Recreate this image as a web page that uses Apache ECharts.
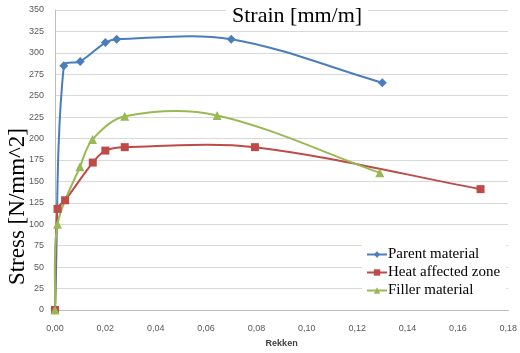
<!DOCTYPE html>
<html>
<head>
<meta charset="utf-8">
<script src="https://cdn.jsdelivr.net/npm/echarts@6/dist/echarts.min.js"></script>
<style>
  html, body { margin: 0; padding: 0; background: #fff; }
  #chart { width: 520px; height: 353px; }
</style>
</head>
<body>
<div id="chart"></div>
<script>
// strain values (x) and stress values (y) per material
const parentStrain = [0, 0.0035, 0.01, 0.02, 0.0245, 0.07, 0.13];
const parentStress = [0, 285, 290, 312, 316, 316, 265];
const hazStrain = [0, 0.001, 0.004, 0.015, 0.02, 0.0277, 0.0794, 0.169];
const hazStress = [0, 118, 128, 172, 186, 190, 190, 141];
const fillerStrain = [0, 0.001, 0.0099, 0.0149, 0.0277, 0.0644, 0.129];
const fillerStress = [0, 100, 167, 199, 226, 227, 160];
const seriesNames = ["Parent material", "Heat affected zone", "Filler material"];
const colors = ["#4a7ebb", "#be4b48", "#98b954"];

const pairs = (xs, ys) => xs.map((x, i) => [x, ys[i]]);
const serif = "Liberation Serif";
const tickFont = { fontFamily: "Liberation Sans", fontSize: 9, color: "#595959" };

const chart = echarts.init(document.getElementById("chart"));

// excel-like smoothed line: bezier segment i -> i+1.
// tangent direction from the neighbours, length a third of the segment (in pixels)
function smoothLine(data, color) {
    const unit = (a, b) => {
        const dx = b[0] - a[0], dy = b[1] - a[1];
        const l = Math.hypot(dx, dy) || 1;
        return [dx / l, dy / l];
    };
    return {
        type: "custom",
        data: data,
        z: 2,
        silent: true,
        renderItem: (params, api) => {
            const i = params.dataIndex;
            if (i >= data.length - 1) return;
            const p = k => api.coord(data[Math.max(0, Math.min(data.length - 1, k))]);
            const p0 = p(i - 1), p1 = p(i), p2 = p(i + 1), p3 = p(i + 2);
            const len = Math.hypot(p2[0] - p1[0], p2[1] - p1[1]) * 0.33;
            const d1 = unit(p0, p2), d2 = unit(p1, p3);
            return {
                type: "bezierCurve",
                shape: {
                    x1: p1[0], y1: p1[1],
                    x2: p2[0], y2: p2[1],
                    cpx1: p1[0] + d1[0] * len, cpy1: p1[1] + d1[1] * len,
                    cpx2: p2[0] - d2[0] * len, cpy2: p2[1] - d2[1] * len
                },
                style: { stroke: color, lineWidth: 2, fill: null }
            };
        }
    };
}

const markers = (name, data, color, symbol, size) => ({
    name: name,
    type: "line",
    data: data,
    z: 3,
    symbol: symbol,
    symbolSize: size,
    color: color,
    lineStyle: { opacity: 0 },
    itemStyle: { color: color },
});

const allData = [
    pairs(parentStrain, parentStress),
    pairs(hazStrain, hazStress),
    pairs(fillerStrain, fillerStress)
];

const option = {
    animation: false,
    backgroundColor: "#fff",
    title: {
        text: "Strain [mm/m]",
        left: 226,
        top: 3,
        padding: [2, 6],
        backgroundColor: "#fff",
        textStyle: { fontFamily: serif, fontSize: 22, fontWeight: "normal", color: "#000" }
    },
    grid: { left: 55, right: 10, top: 10, bottom: 43 },
    xAxis: {
        type: "value",
        min: 0,
        max: 0.18,
        interval: 0.02,
        name: "Rekken",
        nameLocation: "middle",
        nameGap: 29,
        nameTextStyle: { fontFamily: "Liberation Sans", fontSize: 9, fontWeight: "bold", color: "#404040" },
        axisLine: { show: true, onZero: false, lineStyle: { color: "#bfbfbf", width: 1 } },
        axisTick: { show: false },
        splitLine: { show: false },
        axisLabel: Object.assign({ margin: 14, formatter: v => v.toFixed(2).replace(".", ",") }, tickFont)
    },
    yAxis: {
        type: "value",
        min: 0,
        max: 350,
        interval: 25,
        axisLine: { show: true, lineStyle: { color: "#bfbfbf", width: 1 } },
        axisTick: { show: false },
        splitLine: { show: true, lineStyle: { color: "#d9d9d9", width: 1 } },
        axisLabel: Object.assign({ margin: 11 }, tickFont)
    },
    legend: {
        orient: "vertical",
        left: 362,
        top: 245,
        itemGap: 3,
        itemWidth: 20,
        itemHeight: 8,
        padding: [2, 6, 4, 4],
        backgroundColor: "#fff",
        textStyle: { fontFamily: serif, fontSize: 15, color: "#000", padding: [0, 0, 0, -4] },
        data: seriesNames.map((n, i) => ({ name: n, lineStyle: { color: colors[i], width: 2, opacity: 1 } }))
    },
    graphic: [{
        type: "text",
        left: 6,
        top: 128,
        rotation: Math.PI / 2,
        style: { text: "Stress [N/mm^2]", font: "23px 'Liberation Serif'", fill: "#000" }
    }],
    series: [
        smoothLine(allData[0], colors[0]),
        smoothLine(allData[1], colors[1]),
        smoothLine(allData[2], colors[2]),
        markers(seriesNames[0], allData[0], colors[0], "diamond", 9),
        markers(seriesNames[1], allData[1], colors[1], "rect", 8),
        markers(seriesNames[2], allData[2], colors[2], "triangle", 9)
    ]
};

chart.setOption(option);
</script>
</body>
</html>
